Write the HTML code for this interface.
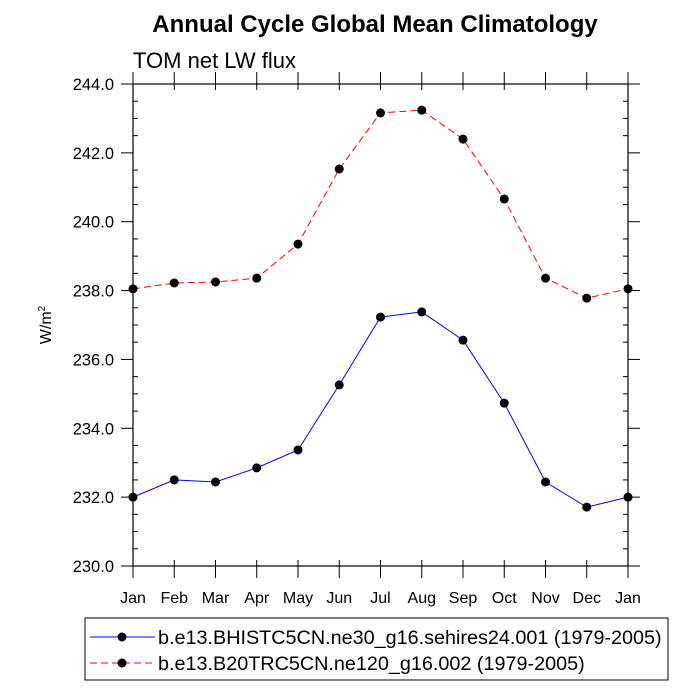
<!DOCTYPE html>
<html><head><meta charset="utf-8"><style>body{margin:0;background:#fff}svg{display:block;font-family:"Liberation Sans",sans-serif}</style></head>
<body>
<svg id="c" width="700" height="700">
<text x="375" y="32" text-anchor="middle" font-size="24" font-weight="bold">Annual Cycle Global Mean Climatology</text>
<text x="133" y="68" font-size="22">TOM net LW flux</text>
<text transform="translate(51,325) rotate(-90)" text-anchor="middle" font-size="16">W/m<tspan font-size="10" dy="-6">2</tspan></text>
<g id="ax"></g>
<g id="series"></g>
<rect x="85" y="618" width="583" height="62" fill="none" stroke="#000" stroke-width="1"/>
<g>
<line x1="90" y1="637" x2="155" y2="637" stroke="#00f" stroke-width="1"/><circle cx="122" cy="637" r="4.5"/>
<text x="158" y="644" font-size="19.8">b.e13.BHISTC5CN.ne30_g16.sehires24.001 (1979-2005)</text></g>
<g>
<line x1="90" y1="663" x2="155" y2="663" stroke="#f00" stroke-width="1" stroke-dasharray="7,4"/><circle cx="122" cy="663" r="4.5"/>
<text x="158" y="670" font-size="19.8">b.e13.B20TRC5CN.ne120_g16.002 (1979-2005)</text></g>
</svg>
<script>
const months=["Jan","Feb","Mar","Apr","May","Jun","Jul","Aug","Sep","Oct","Nov","Dec","Jan"];
const yTicks=[230,232,234,236,238,240,242,244];
const blueVals=[232.0,232.5,232.44,232.85,233.37,235.26,237.23,237.38,236.56,234.73,232.44,231.71,232.0];
const redVals=[238.05,238.22,238.25,238.36,239.35,241.53,243.16,243.24,242.40,240.66,238.36,237.78,238.05];
const NS="http://www.w3.org/2000/svg";
const L=133,R=628,T=84,B=566,ymin=230,ymax=244;
const xs=i=>L+(R-L)*i/(months.length-1);
const ys=v=>B-(B-T)*(v-ymin)/(ymax-ymin);
function mk(tag,a,parent){const e=document.createElementNS(NS,tag);for(const k in a)e.setAttribute(k,a[k]);parent.appendChild(e);return e;}
const ax=document.getElementById('ax');
const frame=mk('rect',{x:L,y:T,width:R-L,height:B-T,fill:'none',stroke:'#000','stroke-width':1.2},ax);


yTicks.forEach(v=>{const y=ys(v);
mk('line',{x1:L-12,y1:y,x2:L,y2:y,stroke:'#000'},ax);
mk('line',{x1:R,y1:y,x2:R+12,y2:y,stroke:'#000'},ax);
const t=mk('text',{x:L-19,y:y+6,'text-anchor':'end','font-size':16.5},ax);t.textContent=v.toFixed(1);


if(v<ymax)for(let k=1;k<4;k++){const yy=ys(v+k*0.5);
mk('line',{x1:L,y1:yy,x2:L+5,y2:yy,stroke:'#000'},ax);
mk('line',{x1:R-5,y1:yy,x2:R,y2:yy,stroke:'#000'},ax);}});
months.forEach((m,i)=>{const x=xs(i);
mk('line',{x1:x,y1:B-6,x2:x,y2:B+12,stroke:'#000'},ax);
mk('line',{x1:x,y1:T-12,x2:x,y2:T+6,stroke:'#000'},ax);
const t=mk('text',{x:x,y:B+37,'text-anchor':'middle','font-size':16},ax);t.textContent=m;

});
const sg=document.getElementById('series');
function draw(vals,color,dash,name){
const p=mk('polyline',{points:vals.map((v,i)=>xs(i)+','+ys(v)).join(' '),fill:'none',stroke:color,'stroke-width':1,'stroke-dasharray':dash},sg);


vals.forEach((v,i)=>{const c=mk('circle',{cx:xs(i),cy:ys(v),r:4.5,fill:'#000'},sg);

});}
draw(blueVals,'#00f','none','blue-series');
draw(redVals,'#f00','7,4','red-series');
</script>
</body></html>
